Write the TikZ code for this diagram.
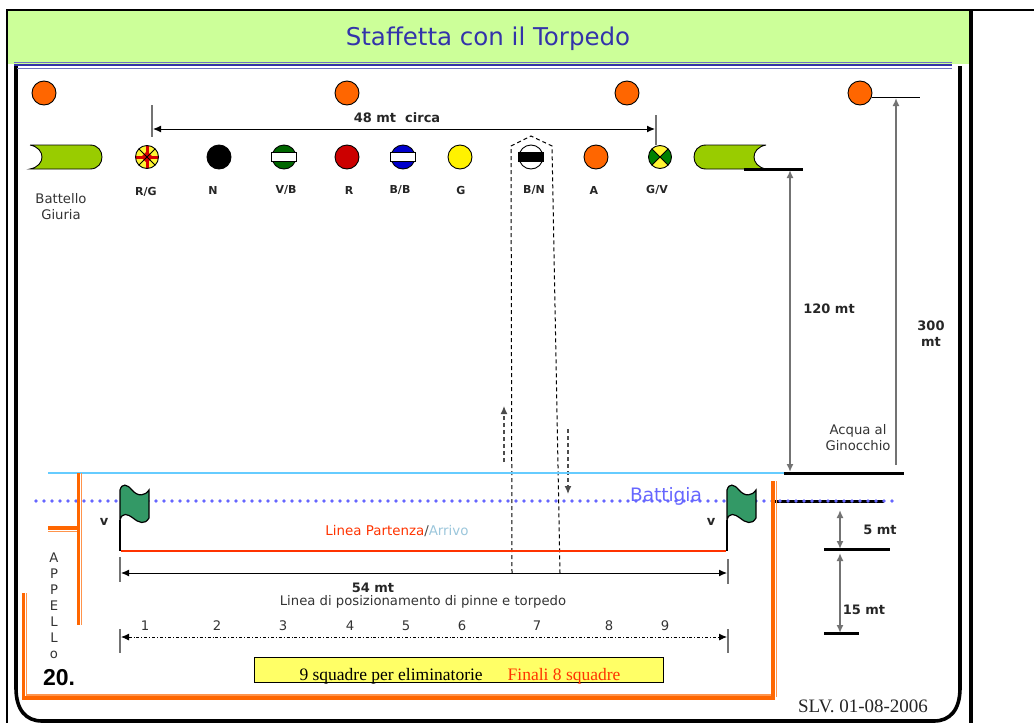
\documentclass[tikz,border=0pt]{standalone}
\usepackage{fontspec}
\setmainfont{DejaVu Sans}
\newfontfamily\timesfont{Liberation Serif}
\newfontfamily\arialfont{Liberation Sans}
\usetikzlibrary{arrows.meta}
\definecolor{bandgreen}{HTML}{CCFF99}
\definecolor{titleblue}{HTML}{3333AA}
\definecolor{boatgreen}{HTML}{99CC00}
\definecolor{buoyorange}{HTML}{FF6600}
\definecolor{flaggreen}{HTML}{339966}
\definecolor{shoreblue}{HTML}{6666FF}
\definecolor{waterblue}{HTML}{66CCFF}
\definecolor{startred}{HTML}{FF3300}
\definecolor{boxyellow}{HTML}{FFFF66}
\newcommand{\sz}[1]{\fontsize{#1}{16}\selectfont}
\tikzset{
  every picture/.style={x=1pt,y=-1pt,>={Latex[length=8pt,width=7pt]}},
  buoy/.style={circle,draw=black,line width=0.9pt,minimum size=24pt,inner sep=0pt},
  buoybar/.style={rectangle,draw=black,line width=0.9pt,fill=white,minimum width=25pt,minimum height=9pt,inner sep=0pt},
  tag/.style={inner sep=0pt,font=\sz{11}\bfseries,text=black!85},
  note/.style={inner sep=0pt,align=center,font=\sz{13.2},text=black!80},
  dimtag/.style={inner sep=0pt,align=center,font=\sz{13}\bfseries,text=black!85},
  tick/.style={black!55,line width=1.3pt},
  bar/.style={black,line width=3pt},
  dimline/.style={black!55,line width=1.6pt,<->},
  thinarrow/.style={black,line width=1pt,<->},
  lanedash/.style={black,line width=1pt,dash pattern=on 4pt off 3pt},
  orangeline/.style={buoyorange,line width=3.6pt},
  orangethin/.style={buoyorange!70,line width=1.3pt},
  flagpic/.pic={
    \draw[black,line width=1.2pt,fill=flaggreen] (0,5) .. controls (2,-2) and (7,-1) .. (12,5)
      .. controls (18,12) and (25,11) .. (29,5) -- (29,33) .. controls (25,40) and (19,38) .. (13,33)
      .. controls (8,29) and (2,27) .. (0,35) -- cycle;
    \draw[black,line width=2.4pt] (0,35) -- (0,66);
  }
}

\begin{document}
\begin{tikzpicture}

  \useasboundingbox (0,0) rectangle (1034,723);

  % header and frames
  \fill[bandgreen] (8,11) rectangle (970,64);
  \draw[black,line width=2.4pt] (7,723) -- (7,10) -- (1034,10);
  \draw[black,line width=4.4pt] (971,10) -- (971,723);
  \draw[black,line width=3.6pt] (16,66) -- (16,688) .. controls (16,710) and (26,721) .. (42,721)
    -- (934,721) .. controls (950,721) and (960,710) .. (960,688) -- (960,66);
  \draw[titleblue,line width=1.6pt] (14,65) -- (952,65);
  \draw[titleblue!70,line width=0.9pt] (14,62) -- (952,62);
  \draw[titleblue!70,line width=0.9pt] (17,68) -- (952,68);
  \node[inner sep=0pt,font=\sz{24.5},text=titleblue] (title) at (488,39) {Staffetta con il Torpedo};

  % top buoys
  \node[buoy,fill=buoyorange] (o1) at (44,93) {};
  \node[buoy,fill=buoyorange] (o2) at (347,93) {};
  \node[buoy,fill=buoyorange] (o3) at (627,93) {};
  \node[buoy,fill=buoyorange] (o4) at (860,93) {};

  % boats
  \draw[black,line width=0.9pt,fill=boatgreen] (30,145) -- (90,145) .. controls (106,145) and (106,169) .. (90,169)
    -- (30,169) .. controls (46,166) and (46,148) .. (30,145);
  \draw[black,line width=0.9pt,fill=boatgreen] (766,145) -- (706,145) .. controls (690,145) and (690,169) .. (706,169)
    -- (766,169) .. controls (750,166) and (750,148) .. (766,145);
  \node[note] (giuria) at (61,207) {Battello\\Giuria};

  % course buoys
  \node[buoy,minimum size=23pt,fill=yellow!80,path picture={
    \draw[red!85!black,line width=3pt] (path picture bounding box.west) -- (path picture bounding box.east);
    \draw[red!85!black,line width=3pt] (path picture bounding box.north) -- (path picture bounding box.south);
    \fill[red!85!black] (path picture bounding box.center) +(-6,0) -- +(0,-6) -- +(6,0) -- +(0,6) -- cycle;
    \draw[black,line width=0.9pt] (path picture bounding box.north west) -- (path picture bounding box.south east);
    \draw[black,line width=0.9pt] (path picture bounding box.north east) -- (path picture bounding box.south west);
  }] (rg) at (147,157) {};
  \node[buoy,fill=black] (n) at (219,157) {};
  \node[buoy,fill=green!40!black] (vb) at (284,157) {};
  \node[buoybar] (vbbar) at (284,157) {};
  \node[buoy,fill=red!80!black] (r) at (347,157) {};
  \node[buoy,fill=blue!80!black] (bb) at (403,157) {};
  \node[buoybar] (bbbar) at (403,157) {};
  \node[buoy,fill=yellow] (g) at (460,157) {};
  \node[buoy,fill=white] (bn) at (531,157) {};
  \node[buoybar,fill=black] (bnbar) at (531,157) {};
  \node[buoy,fill=buoyorange] (a) at (596,157) {};
  \node[buoy,minimum size=23pt,fill=yellow!80,path picture={
    \fill[green!50!black] (path picture bounding box.north west) -- (path picture bounding box.center) -- (path picture bounding box.south west) -- cycle;
    \fill[green!50!black] (path picture bounding box.north east) -- (path picture bounding box.center) -- (path picture bounding box.south east) -- cycle;
    \draw[black,line width=0.9pt] (path picture bounding box.north west) -- (path picture bounding box.south east);
    \draw[black,line width=0.9pt] (path picture bounding box.north east) -- (path picture bounding box.south west);
  }] (gv) at (660,157) {};

  \node[tag] (trg) at (146,191.5) {R/G};
  \node[tag] (tn) at (213,190) {N};
  \node[tag] (tvb) at (286,190) {V/B};
  \node[tag] (tr) at (349,190) {R};
  \node[tag] (tbb) at (400,190) {B/B};
  \node[tag] (tg) at (461,190) {G};
  \node[tag] (tbn) at (534,190) {B/N};
  \node[tag] (ta) at (594,190) {A};
  \node[tag] (tgv) at (657,190) {G/V};

  % 48 mt
  \coordinate (l1) at (152,105);
  \coordinate (l2) at (152,137);
  \coordinate (l3) at (656,115);
  \coordinate (l4) at (656,145);
  \coordinate (l5) at (153,129);
  \coordinate (l6) at (655,129);
  \draw[tick] (l1)--(l2);
  \draw[tick] (l3)--(l4);
  \draw[thinarrow] (l5)--(l6);
  \node[dimtag] (t48) at (397,118) {48 mt\ \ circa};

  % lane of the course
  \coordinate (p1) at (512,573);
  \coordinate (p2) at (511,146);
  \coordinate (p3) at (531,136);
  \coordinate (p4) at (552,146);
  \coordinate (p5) at (560,573);
  \draw[lanedash] (p1)--(p2)--(p3)--(p4)--(p5);
  \coordinate (u1) at (504,462);
  \coordinate (u2) at (504,406);
  \coordinate (d1) at (568,429);
  \coordinate (d2) at (568,494);
  \draw[lanedash,black!70,line width=1.3pt,->] (u1)--(u2);
  \draw[lanedash,black!70,line width=1.3pt,->] (d1)--(d2);

  % right side measures
  \coordinate (b1) at (744,169);
  \coordinate (b2) at (803,169);
  \coordinate (b3) at (784,473);
  \coordinate (b4) at (904,473);
  \coordinate (m1) at (790,170);
  \coordinate (m2) at (790,472);
  \draw[bar] (b1)--(b2);
  \draw[dimline] (m1)--(m2);
  \node[dimtag] (t120) at (829,309) {120 mt};
  \coordinate (c1) at (872,97);
  \coordinate (c2) at (920,97);
  \coordinate (c3) at (896,98);
  \coordinate (c4) at (896,465);
  \draw[black,line width=1pt] (c1)--(c2);
  \draw[black!55,line width=1.6pt,->] (c4)--(c3);
  \node[dimtag] (t300) at (931,334) {300\\ mt};
  \node[note] (acqua) at (858,438) {Acqua al\\Ginocchio};

  % shore
  \coordinate (w1) at (48,473);
  \coordinate (w2) at (790,473);
  \draw[waterblue,line width=1.3pt] (w1)--(w2);
  \draw[bar] (b3)--(b4);
  \coordinate (k1) at (775,501);
  \coordinate (k2) at (884,501);
  \draw[bar] (k1)--(k2);
  \coordinate (s1) at (36,501);
  \coordinate (s2) at (897,501);
  \draw[shoreblue,line width=3.8pt,line cap=round,dash pattern=on 0pt off 8pt] (s1)--(s2);
  \node[inner sep=0pt,font=\sz{18.5},text=shoreblue] (battigia) at (666,496) {Battigia};

  % appello
  \coordinate (e1) at (78.5,473);
  \coordinate (e2) at (78.5,625);
  \coordinate (e3) at (81.8,473);
  \coordinate (e4) at (81.8,625);
  \coordinate (e5) at (48,528);
  \coordinate (e6) at (77,528);
  \coordinate (e7) at (48,531.5);
  \coordinate (e8) at (77,531.5);
  \draw[orangeline] (e1)--(e2);
  \draw[orangethin] (e3)--(e4);
  \draw[orangeline] (e5)--(e6);
  \draw[orangethin] (e7)--(e8);
  \node[note] (appello) at (54,606) {A\\P\\P\\E\\L\\L\\o};
  \node[inner sep=0pt,font=\arialfont\sz{23}\bfseries] (num) at (59,678) {20.};

  % box round the start
  \coordinate (f1) at (23.5,593);
  \coordinate (f2) at (23.5,698);
  \coordinate (f3) at (773,698);
  \coordinate (f4) at (773,481);
  \coordinate (f5) at (26.8,593);
  \coordinate (f6) at (26.8,695);
  \coordinate (f7) at (771,695);
  \coordinate (f8) at (776.3,481);
  \coordinate (f9) at (776.3,697);
  \draw[orangeline] (f1)--(f2)--(f3)--(f4);
  \draw[orangethin] (f5)--(f6)--(f7);
  \draw[orangethin] (f8)--(f9);

  % flags and start line
  \pic (flagl) at (120,485) {flagpic};
  \pic (flagr) at (727,485) {flagpic};
  \node[tag,font=\sz{13}\bfseries] (vl) at (104,522) {v};
  \node[tag,font=\sz{13}\bfseries] (vr) at (711,522) {v};
  \coordinate (r1) at (121,551);
  \coordinate (r2) at (726,551);
  \draw[startred,line width=1.3pt] (r1)--(r2);
  \node[inner sep=0pt,font=\sz{13.4}] (partenza) at (397,531) {\textcolor{startred}{Linea Partenza}\textcolor{black!70}{/}\textcolor{waterblue!60!gray!70}{Arrivo}};

  % 54 mt
  \coordinate (h1) at (120,557);
  \coordinate (h2) at (120,582);
  \coordinate (h3) at (728,559);
  \coordinate (h4) at (728,584);
  \coordinate (h5) at (121,573);
  \coordinate (h6) at (727,573);
  \draw[tick] (h1)--(h2);
  \draw[tick] (h3)--(h4);
  \draw[thinarrow] (h5)--(h6);
  \node[dimtag] (t54) at (373,588) {54 mt};
  \node[note] (pinne) at (423,602) {Linea di posizionamento di pinne e torpedo};

  % squares
  \coordinate (q1) at (120,629);
  \coordinate (q2) at (120,653);
  \coordinate (q3) at (728,629);
  \coordinate (q4) at (728,653);
  \coordinate (q5) at (121,637);
  \coordinate (q6) at (727,637);
  \draw[tick] (q1)--(q2);
  \draw[tick] (q3)--(q4);
  \draw[black,line width=0.9pt,dash dot,<->] (q5)--(q6);
  \foreach \name/\xpos in {1/145,2/217,3/283,4/350,5/406,6/462,7/537,8/609,9/665}
    \node[note] (n\name) at (\xpos,626) {\name};

  \node[rectangle,draw=black,line width=0.9pt,fill=boxyellow,minimum width=409pt,minimum height=25pt,inner sep=0pt] (box) at (458.5,669.5) {};
  \node[inner sep=0pt,font=\timesfont\sz{17.5}] (squadre) at (460,676) {9 squadre per eliminatorie\hspace{25pt}\textcolor{startred}{Finali 8 squadre}};
  \node[inner sep=0pt,font=\timesfont\sz{19},text=black!85] (slv) at (863,706) {SLV. 01-08-2006};

  % 5 and 15 mt
  \coordinate (g1) at (824,549);
  \coordinate (g2) at (890,549);
  \coordinate (g3) at (824,633);
  \coordinate (g4) at (859,633);
  \coordinate (g5) at (840,510);
  \coordinate (g6) at (840,549);
  \coordinate (g7) at (840,553);
  \coordinate (g8) at (840,633);
  \draw[bar] (g1)--(g2);
  \draw[bar] (g3)--(g4);
  \draw[dimline] (g5)--(g6);
  \draw[dimline] (g7)--(g8);
  \node[dimtag] (t5) at (880,530) {5 mt};
  \node[dimtag] (t15) at (864,610) {15 mt};

\end{tikzpicture}
\end{document}
